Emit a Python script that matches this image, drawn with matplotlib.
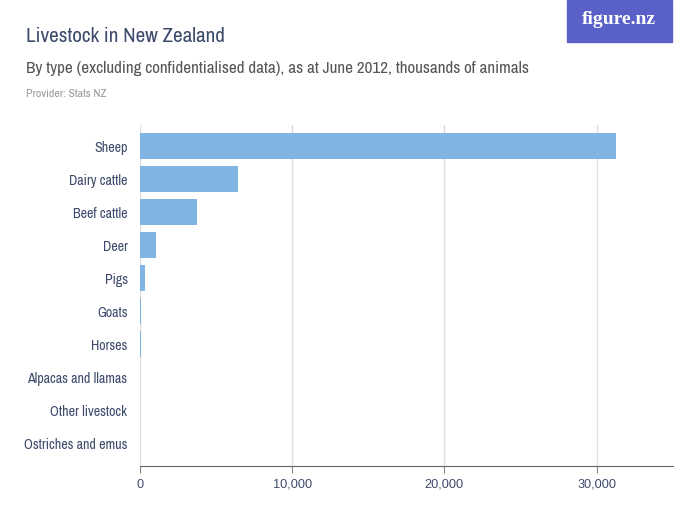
import matplotlib.pyplot as plt
from matplotlib import font_manager
from matplotlib.ticker import FuncFormatter
from matplotlib.patches import Rectangle

# livestock counts, thousands of animals, June 2012
animals = ["Sheep", "Dairy cattle", "Beef cattle", "Deer", "Pigs", "Goats",
           "Horses", "Alpacas and llamas", "Other livestock", "Ostriches and emus"]
counts = [31263, 6446, 3734, 1060, 313, 86, 58, 13, 3, 1]
xticks = [0, 10000, 20000, 30000]

text_col = "#3d4a6b"
bar_col = "#7fb4e3"

# prefer a narrow face if one is around, the original uses a condensed grotesk
names = sorted({f.name for f in font_manager.fontManager.ttflist})
narrow = [n for n in names if "Narrow" in n or "Condensed" in n]
main_font = narrow[0] if narrow else "Roboto"
plt.rcParams['font.family'] = [main_font, 'DejaVu Sans']
cond = bool(narrow)

fig = plt.figure(figsize=(7, 5.25), dpi=100)
ax = fig.add_axes([0.2, 0.112, 0.761, 0.65])

ypos = list(range(len(animals)))
ax.barh(ypos, counts, height=0.79, color=bar_col, zorder=3)

ax.set_ylim(9.7, -0.65)
ax.set_xlim(0, 35000)
ax.set_yticks(ypos)
ax.set_yticklabels(animals)
ax.set_xticks(xticks)
ax.xaxis.set_major_formatter(FuncFormatter(lambda v, p: f"{int(v):,}"))

ax.grid(axis="x", color="#dddddd", linewidth=1, zorder=0)
for s in ["top", "right", "left"]:
    ax.spines[s].set_visible(False)
ax.spines["bottom"].set_color("#666666")
ax.tick_params(axis="y", length=0, pad=9, labelsize=10.1 if cond else 9,
               labelcolor=text_col)
ax.tick_params(axis="x", length=5, color="#888888", labelsize=9.2,
               labelcolor=text_col, pad=4)
# the axis numbers are in a regular width face
for t in ax.get_xticklabels():
    t.set_family(["Liberation Sans", "DejaVu Sans"])

fig.text(0.037, 0.931, "Livestock in New Zealand", fontsize=15.2 if cond else 13,
         color=text_col, va="center", ha="left")
fig.text(0.037, 0.870, "By type (excluding confidentialised data), as at June 2012, thousands of animals",
         fontsize=12.3 if cond else 10.3, color="#555555", va="center", ha="left")
fig.text(0.037, 0.821, "Provider: Stats NZ", fontsize=8.5 if cond else 7.5,
         color="#999999", va="center", ha="left")

# logo box
fig.patches.append(Rectangle((0.81, 0.92), 0.15, 0.08, transform=fig.transFigure,
                             color="#5961c9", zorder=0))
fig.text(0.884, 0.962, "figure.nz", fontsize=14, color="white", fontweight="bold",
         family=["Liberation Serif", "DejaVu Serif"], ha="center", va="center")

fig.savefig("out.png", dpi=100)
